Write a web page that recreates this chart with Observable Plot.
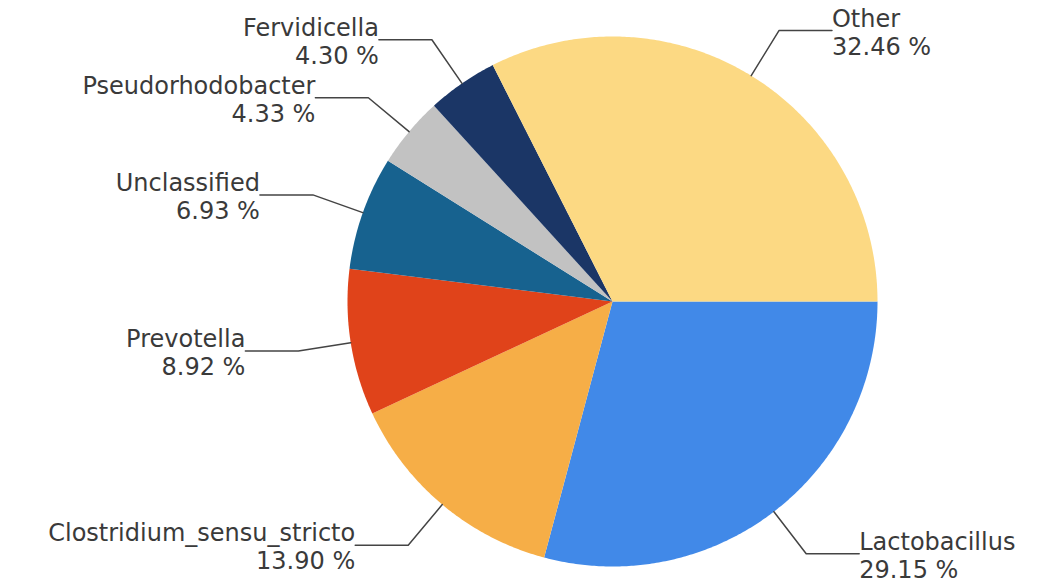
<!DOCTYPE html>
<html>
<head>
<meta charset="utf-8">
<script src="https://cdn.jsdelivr.net/npm/d3@7"></script>
<script src="https://cdn.jsdelivr.net/npm/@observablehq/plot@0.6"></script>
<style>
  html, body { margin: 0; padding: 0; background: #fff; }
  #chart svg { display: block; }
</style>
</head>
<body>
<div id="chart"></div>
<script>
// Slices, clockwise starting at 3 o'clock
const names = ["Lactobacillus", "Clostridium_sensu_stricto", "Prevotella", "Unclassified", "Pseudorhodobacter", "Fervidicella", "Other"];
const values = [29.15, 13.90, 8.92, 6.93, 4.33, 4.30, 32.46];
const colors = ["#4189e8", "#f6ae47", "#e0431a", "#17628f", "#c2c2c2", "#1b3666", "#fcd983"];

const W = 1047, H = 583;
const cx = 612, cy = 301, R = 265;

const total = d3.sum(values);
let cum = 0;
const slices = names.map((name, i) => {
  const a0 = cum / total * 2 * Math.PI;
  cum += values[i];
  const a1 = cum / total * 2 * Math.PI;
  return {name, value: values[i], a0, a1, mid: (a0 + a1) / 2};
});

// polygon points (data space: unit radius, y up; clockwise on screen)
const piePts = [];
for (const s of slices) {
  piePts.push({name: s.name, x: 0, y: 0});
  const n = Math.max(2, Math.ceil((s.a1 - s.a0) / (Math.PI / 360)));
  for (let k = 0; k <= n; k++) {
    const a = s.a0 + (s.a1 - s.a0) * k / n;
    piePts.push({name: s.name, x: Math.cos(a), y: -Math.sin(a)});
  }
}

// leader lines
const leaderPts = [];
const labels = [];
for (const s of slices) {
  const c = Math.cos(s.mid), sn = -Math.sin(s.mid);
  const side = c >= 0 ? 1 : -1;
  const ex = 1.2 * c, ey = 1.2 * sn;
  const hx = ex + side * 0.2;
  leaderPts.push({name: s.name, x: c, y: sn});
  leaderPts.push({name: s.name, x: ex, y: ey});
  leaderPts.push({name: s.name, x: hx, y: ey});
  labels.push({name: s.name, x: hx, y: ey, side, text: s.name + "\n" + s.value.toFixed(2) + " %"});
}

const textStyle = {
  fontSize: 24,
  fontFamily: "DejaVu Sans",
  fill: "#3a3a3a",
  lineHeight: 1.17,
  lineAnchor: "middle",
  dy: 1
};

const chart = Plot.plot({
  width: W,
  height: H,
  margin: 0,
  x: {domain: [-cx / R, (W - cx) / R], range: [0, W], axis: null},
  y: {domain: [-(H - cy) / R, cy / R], range: [H, 0], axis: null},
  color: {domain: names, range: colors},
  marks: [
    Plot.line(piePts, {x: "x", y: "y", z: "name", fill: "name", stroke: "none", curve: "linear-closed"}),
    Plot.line(leaderPts, {x: "x", y: "y", z: "name", stroke: "#444", strokeWidth: 1.5}),
    Plot.text(labels.filter(d => d.side < 0), {x: "x", y: "y", text: "text", textAnchor: "end", ...textStyle}),
    Plot.text(labels.filter(d => d.side > 0), {x: "x", y: "y", text: "text", textAnchor: "start", ...textStyle})
  ]
});
document.getElementById("chart").appendChild(chart);
</script>
</body>
</html>
